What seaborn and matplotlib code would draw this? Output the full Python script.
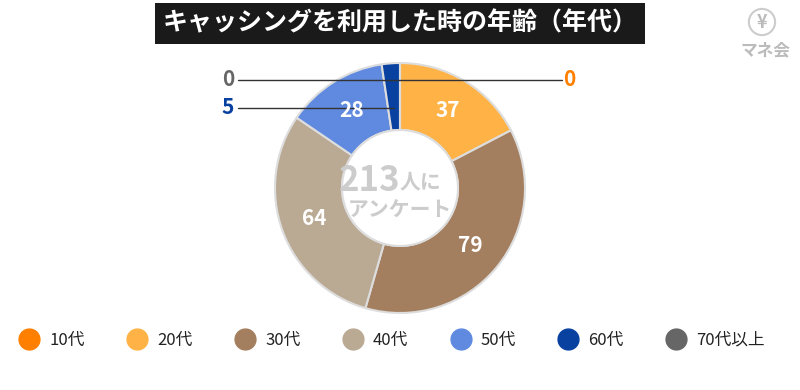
import matplotlib
matplotlib.use("Agg")
import matplotlib.pyplot as plt
import matplotlib.patches as mpatches
from matplotlib.lines import Line2D
import numpy as np
import seaborn as sns

# data
age_groups = ["10代", "20代", "30代", "40代", "50代", "60代", "70代以上"]
counts = [0, 37, 79, 64, 28, 5, 0]
colors = ["#FF7F00", "#FFB347", "#A47F5F", "#BAAA94", "#5F8AE0", "#0841A0", "#666666"]
title = "キャッシングを利用した時の年齢（年代）"
total = sum(counts)

sns.set_theme(style="white")
plt.rcParams["font.family"] = ["Noto Sans CJK JP", "DejaVu Sans"]

fig = plt.figure(figsize=(8, 3.9), dpi=100)
ax = fig.add_axes([270 / 800, 72 / 390, 260 / 800, 260 / 390])
palette = sns.color_palette(colors)

wedges, _ = ax.pie(counts, colors=palette, startangle=90, counterclock=False,
                   radius=1, wedgeprops=dict(width=0.536, edgecolor="#dddddd", linewidth=1.5))
ax.set_xlim(-1.04, 1.04)
ax.set_ylim(-1.04, 1.04)
ax.set_aspect("equal")
ax.axis("off")

# center circle
ax.add_patch(mpatches.Circle((0, 0), 0.464, facecolor="white", edgecolor="#dddddd", linewidth=1.5))

# inside labels
for w, v in zip(wedges, counts):
    if v < 10:
        continue
    ang = np.deg2rad((w.theta1 + w.theta2) / 2)
    ax.text(0.73 * np.cos(ang), 0.73 * np.sin(ang), str(v), color="white",
            fontsize=15, fontweight="bold", ha="center", va="center")

# small-slice callouts
lx_left, lx_right = -1.376, 1.352
# 10代 (0) and 70代以上 (0) at top
y0 = 0.864
ax.plot([lx_left + 0.08, lx_right - 0.06], [y0, y0], color="#333333", lw=1, clip_on=False)
ax.text(lx_left, y0, str(counts[6]), color=colors[6], fontsize=15, fontweight="bold",
        ha="center", va="center", clip_on=False)
ax.text(lx_right, y0, str(counts[0]), color=colors[0], fontsize=15, fontweight="bold",
        ha="center", va="center", clip_on=False)
# 60代
w60 = wedges[5]
ang60 = np.deg2rad((w60.theta1 + w60.theta2) / 2)
y5 = 0.64
ax.plot([lx_left + 0.08, y5 / np.tan(ang60)], [y5, y5], color="#333333", lw=1, clip_on=False)
ax.text(lx_left, y5, str(counts[5]), color=colors[5], fontsize=15, fontweight="bold",
        ha="center", va="center", clip_on=False)

# center text
ax.text(0.0, 0.06, str(total), color="#cccccc", fontsize=25, fontweight="bold",
        ha="right", va="center")
ax.text(0.0, 0.05, "人に", color="#cccccc", fontsize=15, fontweight="bold",
        ha="left", va="center")
ax.text(0.0, -0.18, "アンケート", color="#cccccc", fontsize=15, fontweight="bold",
        ha="center", va="center")

# title box
fig.patches.append(mpatches.Rectangle((155 / 800, 1 - 44 / 390), 490 / 800, 41 / 390,
                                      transform=fig.transFigure, facecolor="#1a1a1a",
                                      edgecolor="none"))
fig.text(0.5, 1 - 23.5 / 390, title, color="white", fontsize=18, fontweight="bold",
         ha="center", va="center")

# logo
fig.text(762 / 800, 1 - 22 / 390, "¥", color="#bbbbbb", fontsize=13, fontweight="bold",
         ha="center", va="center",
         bbox=dict(boxstyle="circle,pad=0.2", facecolor="none", edgecolor="#cccccc", lw=1.5))
fig.text(765 / 800, 1 - 50 / 390, "マネ会", color="#bbbbbb", fontsize=12, fontweight="bold",
         ha="center", va="center")

# legend
handles = [Line2D([0], [0], marker="o", linestyle="none", markersize=15,
                  markerfacecolor=c, markeredgecolor=c) for c in colors]
fig.legend(handles, age_groups, loc="center", bbox_to_anchor=(0.49, 1 - 340 / 390),
           ncol=7, frameon=False, fontsize=12, handletextpad=0.6, columnspacing=2.55,
           handlelength=1.2, labelcolor="#222222")

fig.savefig("out.png", dpi=100)
